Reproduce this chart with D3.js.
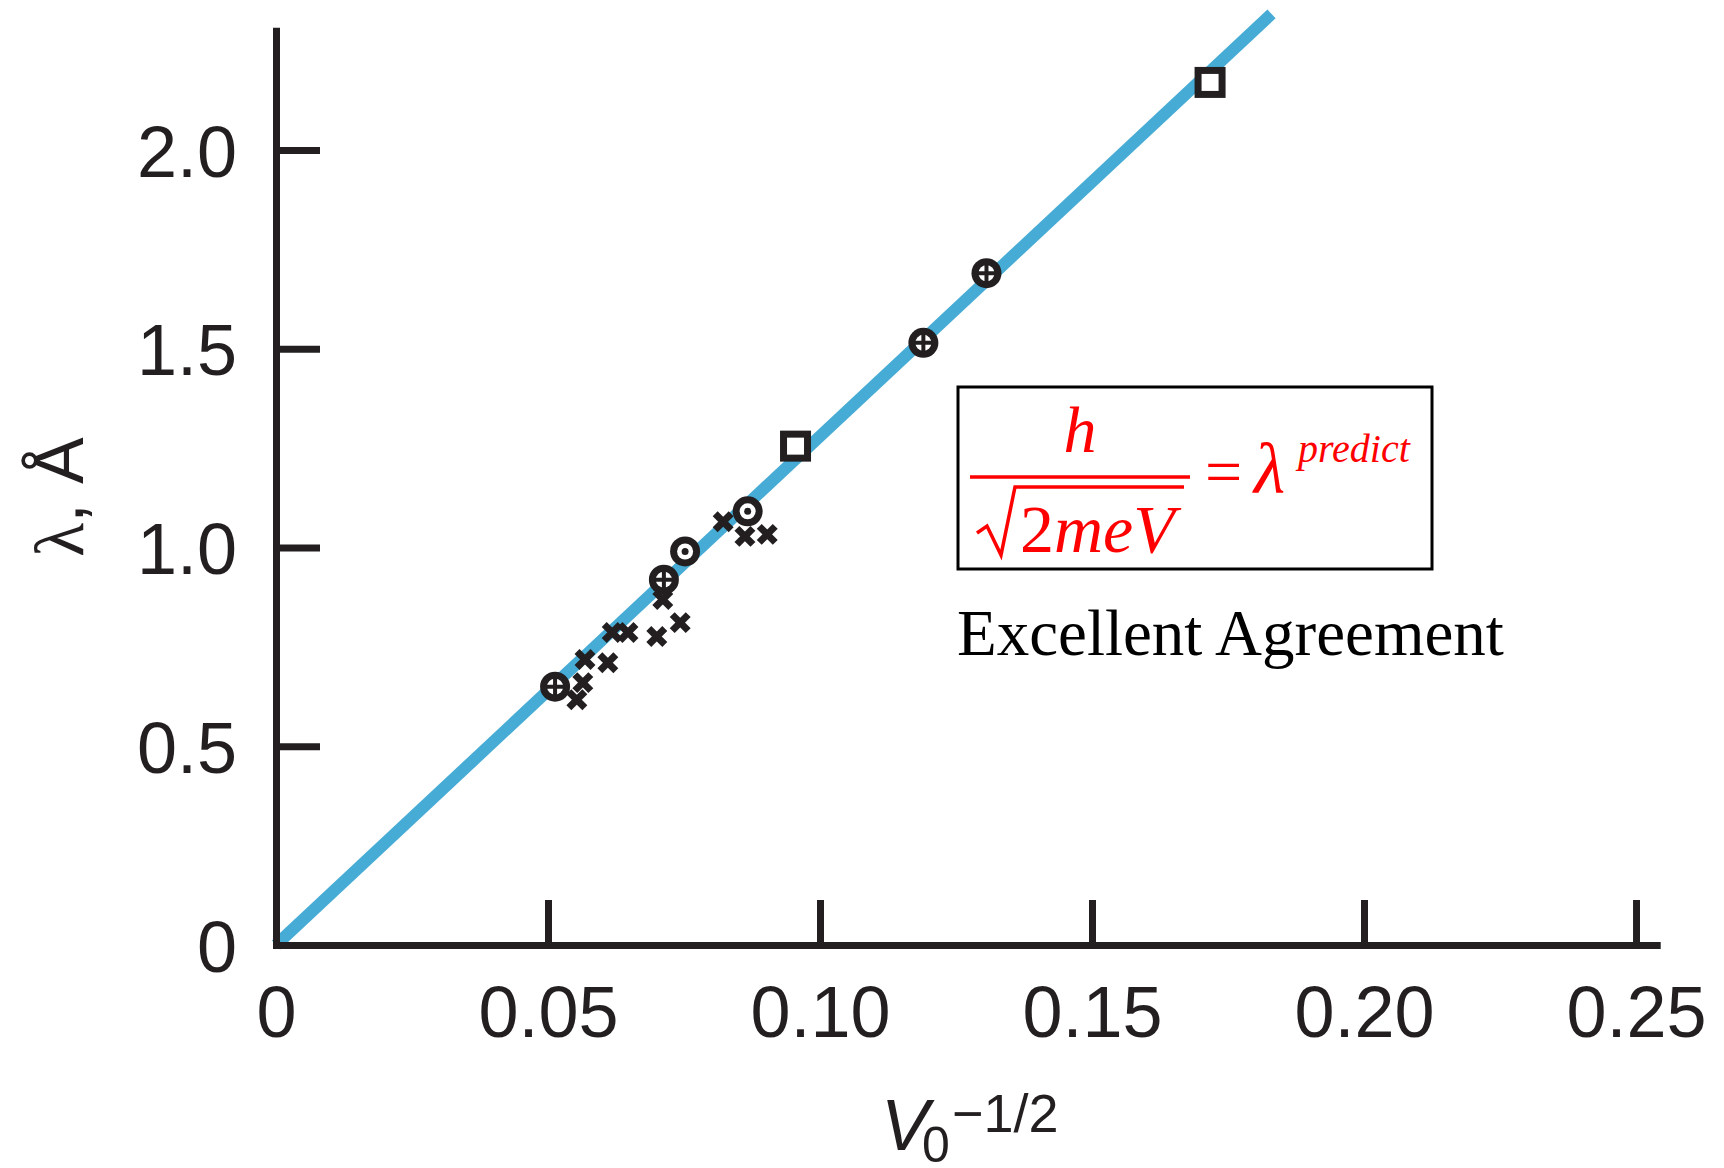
<!DOCTYPE html>
<html>
<head>
<meta charset="utf-8">
<script src="https://cdn.jsdelivr.net/npm/d3@7"></script>
<style>
  body { margin: 0; background: #fff; }
</style>
</head>
<body>
<script>
// measured points (V0^-1/2, wavelength in Angstrom)
var crossX = [0.0553, 0.0564, 0.0568, 0.0610, 0.0618, 0.0647, 0.0700, 0.0743, 0.0711, 0.0822, 0.0862, 0.0903];
var crossY = [0.617, 0.660, 0.718, 0.710, 0.786, 0.786, 0.776, 0.811, 0.869, 1.065, 1.028, 1.033];
var otimesX = [0.0513, 0.0713, 0.119, 0.1306];
var otimesY = [0.650, 0.919, 1.515, 1.690];
var odotX = [0.0752, 0.0867];
var odotY = [0.990, 1.091];
var squareX = [0.0955, 0.1717];
var squareY = [1.255, 2.170];

// predicted line lambda = k * V^-1/2
var fitSlope = 12.8;
var fitXMax = 0.183;

var xTicks = [0, 0.05, 0.10, 0.15, 0.20, 0.25];
var xTickLabels = ["0", "0.05", "0.10", "0.15", "0.20", "0.25"];
var yTicks = [0, 0.5, 1.0, 1.5, 2.0];
var yTickLabels = ["0", "0.5", "1.0", "1.5", "2.0"];

var W = 1724, H = 1168;
var axisColor = "#231f20";
var sans = "'Liberation Sans', Arial, sans-serif";
var serif = "'Liberation Serif', 'Times New Roman', serif";

var svg = d3.select("body").append("svg")
  .attr("width", W)
  .attr("height", H);

var x = d3.scaleLinear().domain([0, 0.2538]).range([276, 1656.7]);
var y = d3.scaleLinear().domain([0, 2.3]).range([945, 30.75]);

// fit line
svg.append("line")
  .attr("x1", x(0)).attr("y1", y(0))
  .attr("x2", x(fitXMax)).attr("y2", y(fitXMax * fitSlope))
  .attr("stroke", "#47acd5")
  .attr("stroke-width", 12);

// axes
var yAxis = d3.axisLeft(y)
  .tickValues(yTicks)
  .tickFormat(function(d, i) { return yTickLabels[i]; })
  .tickSizeInner(-44)
  .tickSizeOuter(0)
  .tickPadding(39);

var gy = svg.append("g")
  .attr("transform", "translate(" + x(0) + ",0)")
  .call(yAxis);

var xAxis = d3.axisBottom(x)
  .tickValues(xTicks)
  .tickFormat(function(d, i) { return xTickLabels[i]; })
  .tickSizeInner(-45)
  .tickSizeOuter(0)
  .tickPadding(10);

var gx = svg.append("g")
  .attr("transform", "translate(0," + y(0) + ")")
  .call(xAxis);

[gx, gy].forEach(function(g) {
  g.select(".domain")
    .attr("stroke", axisColor)
    .attr("stroke-width", 7)
    .attr("stroke-linecap", "square");
  g.selectAll(".tick line")
    .attr("stroke", axisColor)
    .attr("stroke-width", 7);
  g.selectAll(".tick text")
    .style("font-family", sans)
    .style("font-size", "72px")
    .attr("fill", axisColor);
});

gy.selectAll(".tick text").attr("dy", 26);
gx.selectAll(".tick text").attr("y", 92).attr("dy", 0);

// axis titles
var yt = svg.append("text")
  .attr("transform", "translate(83,497) rotate(-90)")
  .attr("text-anchor", "middle")
  .attr("fill", axisColor)
  .style("font-family", sans)
  .style("font-size", "70px");
yt.append("tspan").style("font-family", serif).text("λ");
yt.append("tspan").text(", Å");

var xt = svg.append("text")
  .attr("y", 1150)
  .attr("fill", axisColor)
  .style("font-family", sans)
  .style("font-size", "72px");
xt.append("tspan").attr("x", 881).style("font-style", "italic").text("V");
xt.append("tspan").attr("x", 922).attr("y", 1162).style("font-size", "50px").text("0");
xt.append("tspan").attr("x", 952).attr("y", 1132).style("font-size", "54px").text("\u22121/2");

// markers
var crosses = svg.append("g");
crossX.forEach(function(cx, i) {
  var px = x(cx), py = y(crossY[i]), s = 8;
  crosses.append("path")
    .attr("d", "M" + (px - s) + "," + (py - s) + "L" + (px + s) + "," + (py + s) +
               "M" + (px - s) + "," + (py + s) + "L" + (px + s) + "," + (py - s))
    .attr("stroke", axisColor)
    .attr("stroke-width", 7);
});

otimesX.forEach(function(cx, i) {
  var g = svg.append("g").attr("transform", "translate(" + x(cx) + "," + y(otimesY[i]) + ")");
  g.append("circle").attr("r", 15).attr("fill", axisColor);
  g.append("circle").attr("r", 8).attr("fill", "#fff");
  g.append("path").attr("d", "M-9,0H9M0,-9V9")
    .attr("stroke", axisColor).attr("stroke-width", 4);
});

odotX.forEach(function(cx, i) {
  var g = svg.append("g").attr("transform", "translate(" + x(cx) + "," + y(odotY[i]) + ")");
  g.append("circle").attr("r", 15).attr("fill", axisColor);
  g.append("circle").attr("r", 8).attr("fill", "#fff");
  g.append("circle").attr("r", 3.5).attr("fill", axisColor);
});

squareX.forEach(function(cx, i) {
  svg.append("rect")
    .attr("x", x(cx) - 12).attr("y", y(squareY[i]) - 12)
    .attr("width", 24).attr("height", 24)
    .attr("fill", "#fff")
    .attr("stroke", axisColor)
    .attr("stroke-width", 7);
});

// formula box
var red = "#ff0000";
var f = svg.append("g");
f.append("rect")
  .attr("x", 958).attr("y", 387)
  .attr("width", 474).attr("height", 182)
  .attr("fill", "none")
  .attr("stroke", "#000")
  .attr("stroke-width", 3);

f.append("text")
  .attr("x", 1080).attr("y", 452)
  .attr("text-anchor", "middle")
  .attr("fill", red)
  .style("font-family", serif)
  .style("font-size", "66px")
  .style("font-style", "italic")
  .text("h");

f.append("line")
  .attr("x1", 970).attr("x2", 1190)
  .attr("y1", 477).attr("y2", 477)
  .attr("stroke", red)
  .attr("stroke-width", 3.5);

f.append("path")
  .attr("d", "M977,533L987,526L1001,555L1015,487H1184")
  .attr("fill", "none")
  .attr("stroke", red)
  .attr("stroke-width", 3.5);

var den = f.append("text")
  .attr("x", 1020).attr("y", 552)
  .attr("fill", red)
  .style("font-family", serif)
  .style("font-size", "68px");
den.append("tspan").text("2");
den.append("tspan").style("font-style", "italic").text("meV");

f.append("text")
  .attr("x", 1205).attr("y", 494)
  .attr("fill", red)
  .style("font-family", serif)
  .style("font-size", "66px")
  .text("=");

f.append("text")
  .attr("x", 1254).attr("y", 493)
  .attr("fill", red)
  .style("font-family", serif)
  .style("font-size", "72px")
  .style("font-style", "italic")
  .text("λ");

f.append("text")
  .attr("x", 1298).attr("y", 462)
  .attr("fill", red)
  .style("font-family", serif)
  .style("font-size", "40px")
  .style("font-style", "italic")
  .text("predict");

svg.append("text")
  .attr("x", 957).attr("y", 655)
  .attr("fill", "#000")
  .style("font-family", serif)
  .style("font-size", "65px")
  .text("Excellent Agreement");
</script>
</body>
</html>
